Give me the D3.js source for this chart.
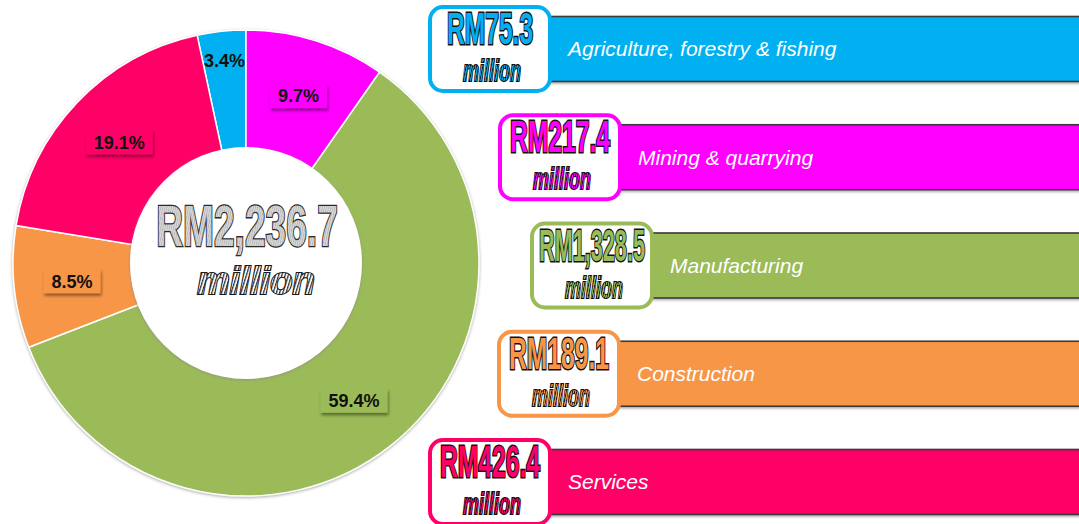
<!DOCTYPE html>
<html><head><meta charset="utf-8">
<script src="https://cdn.jsdelivr.net/npm/d3@7/dist/d3.min.js"></script>
<style>
html,body{margin:0;padding:0;background:#fff;}
svg{display:block;font-family:"Liberation Sans",Arial,sans-serif;}
</style></head>
<body>
<svg id="chart" width="1079" height="524"></svg>
<script>
// ---- data ----
const categories = ["Agriculture, forestry & fishing", "Mining & quarrying", "Manufacturing", "Construction", "Services"];
const values = [75.3, 217.4, 1328.5, 189.1, 426.4];
const colors = ["#00b0f0", "#ff00ff", "#9bbb59", "#f79646", "#ff0066"];
const unitLabel = "million";
const currency = "RM";

// ---- layout ----
const W = 1079, H = 524;
const cx = 246, cy = 263, rOuter = 233, rInner = 116, rLabel = 175, rLabelSmall = 203;
const rowIndent = [0, 70, 102, 69, 0];
const boxX0 = 428, boxW = 124, boxH = 88, barH = 65;

const svg = d3.select("#chart");
const defs = svg.append("defs");
const sh = defs.append("filter").attr("id","ringShadow").attr("x","-10%").attr("y","-10%").attr("width","120%").attr("height","120%");
sh.append("feDropShadow").attr("dx",0).attr("dy",1).attr("stdDeviation",1.6).attr("flood-color","#888").attr("flood-opacity",0.7);
const sh2 = defs.append("filter").attr("id","lblShadow").attr("x","-30%").attr("y","-30%").attr("width","160%").attr("height","180%");
sh2.append("feDropShadow").attr("dx",1).attr("dy",2.5).attr("stdDeviation",1.6).attr("flood-color","#000").attr("flood-opacity",0.45);
const sh3 = defs.append("filter").attr("id","barShadow").attr("x","-5%").attr("y","-20%").attr("width","110%").attr("height","140%");
sh3.append("feDropShadow").attr("dx",0).attr("dy",1.5).attr("stdDeviation",1).attr("flood-color","#777").attr("flood-opacity",0.6);

function hatch(id, bg, line, w) {
  const p = defs.append("pattern").attr("id", id).attr("patternUnits","userSpaceOnUse")
    .attr("width", 3.2).attr("height", 3.2).attr("patternTransform","rotate(18)");
  p.append("rect").attr("width",3.2).attr("height",3.2).attr("fill",bg);
  p.append("line").attr("x1",0.6).attr("y1",0).attr("x2",0.6).attr("y2",3.2).attr("stroke",line).attr("stroke-width",w);
}
colors.forEach((c,i)=>hatch("h"+i, c, "#111", 1.2));
hatch("hCenter", "#f4f4f4", "#333", 1.3);
hatch("hCenterRM", "#d6d6d6", "#b0b0b0", 0.8);

const total = d3.sum(values);
const fmtVal = d3.format(",.1f");
const color = d3.scaleOrdinal().domain(categories).range(colors);

// horizontally condense a text around a centre point
function fitText(sel, cxPos, y, factor, maxW) {
  sel.attr("text-anchor","middle").attr("x",0).attr("y",0);
  const nat = sel.node().getComputedTextLength();
  const s = Math.min(factor, maxW / nat);
  sel.attr("transform", `translate(${cxPos},${y}) scale(${s},1)`);
}

// ---- donut ----
const a0 = -2 * Math.PI * values[0] / total;
const pie = d3.pie().sort(null).value(d => d.v).startAngle(a0).endAngle(a0 + 2*Math.PI);
const data = categories.map((c,i)=>({c, v: values[i], i}));
const arcs = pie(data);
const arc = d3.arc().innerRadius(rInner - 2).outerRadius(rOuter);

const g = svg.append("g").attr("transform", `translate(${cx},${cy})`);
g.append("g").attr("filter","url(#ringShadow)")
  .selectAll("path").data(arcs).join("path")
  .attr("d", arc).attr("fill", d => color(d.data.c))
  .attr("stroke","#fff").attr("stroke-width",1.5);

g.append("circle").attr("r", rInner).attr("fill","#fff").attr("filter","url(#ringShadow)");

// percent labels
const fmtPct = v => (v / total * 100).toFixed(1) + "%";
arcs.forEach(d => {
  const small = d.data.v / total < 0.05;
  const r = small ? rLabelSmall : rLabel;
  const [x, y] = d3.arc().innerRadius(r).outerRadius(r).centroid(d);
  const lg = g.append("g").attr("transform", `translate(${x},${y})`);
  const t = lg.append("text").attr("text-anchor","middle").attr("dy","0.35em")
    .attr("font-size",18).attr("font-weight","bold").attr("fill","#111").text(fmtPct(d.data.v));
  if (!small) {
    const w = t.node().getComputedTextLength() + 16;
    lg.insert("rect","text").attr("x",-w/2).attr("y",-12).attr("width",w).attr("height",24)
      .attr("fill", color(d.data.c)).attr("filter","url(#lblShadow)");
  }
});

// center total
const ct = g.append("text").attr("font-size", 58).attr("font-weight","bold")
  .attr("fill","url(#hCenterRM)").attr("stroke","#2a2a2a").attr("stroke-width",2.6).attr("paint-order","stroke")
  .text(currency + fmtVal(total));
fitText(ct, 1, -17, 0.64, 182);
const cm = g.append("text").attr("font-size", 38).attr("font-weight","bold").attr("font-style","italic")
  .attr("fill","url(#hCenter)").attr("stroke","#1a1a1a").attr("stroke-width",2.2).attr("paint-order","stroke")
  .text(unitLabel);
fitText(cm, 10, 31, 0.96, 118);

// ---- legend rows ----
const yRow = d3.scalePoint().domain(categories).range([49, 482]);
const rows = svg.append("g");
categories.forEach((c,i) => {
  const yc = yRow(c);
  const bx = boxX0 + rowIndent[i];
  const row = rows.append("g");
  row.append("rect").attr("x", bx + boxW - 10).attr("y", yc - barH/2).attr("width", W - bx).attr("height", barH)
    .attr("fill", color(c)).attr("stroke","#3a3a3a").attr("stroke-width",1.6).attr("filter","url(#barShadow)");
  row.append("rect").attr("x", bx + 2).attr("y", yc - boxH/2 + 2).attr("width", boxW - 4).attr("height", boxH - 4)
    .attr("rx", 13).attr("fill","#fff").attr("stroke", color(c)).attr("stroke-width",4);
  row.append("text").attr("x", bx + boxW + 16).attr("y", yc).attr("dy","0.35em")
    .attr("font-size",21).attr("font-style","italic").attr("fill","#fff").text(c);
  const vt = row.append("text").attr("font-size",44).attr("font-weight","bold")
    .attr("fill", color(c)).attr("stroke","#111").attr("stroke-width",3).attr("paint-order","stroke")
    .text(currency + fmtVal(values[i]));
  fitText(vt, bx + boxW/2, yc - 5, 0.56, 106);
  const mt = row.append("text").attr("font-size",29).attr("font-weight","bold").attr("font-style","italic")
    .attr("fill", `url(#h${i})`).attr("stroke","#111").attr("stroke-width",2).attr("paint-order","stroke")
    .text(unitLabel);
  fitText(mt, bx + boxW/2 + 2, yc + 32, 0.62, 60);
});
</script>
</body></html>
